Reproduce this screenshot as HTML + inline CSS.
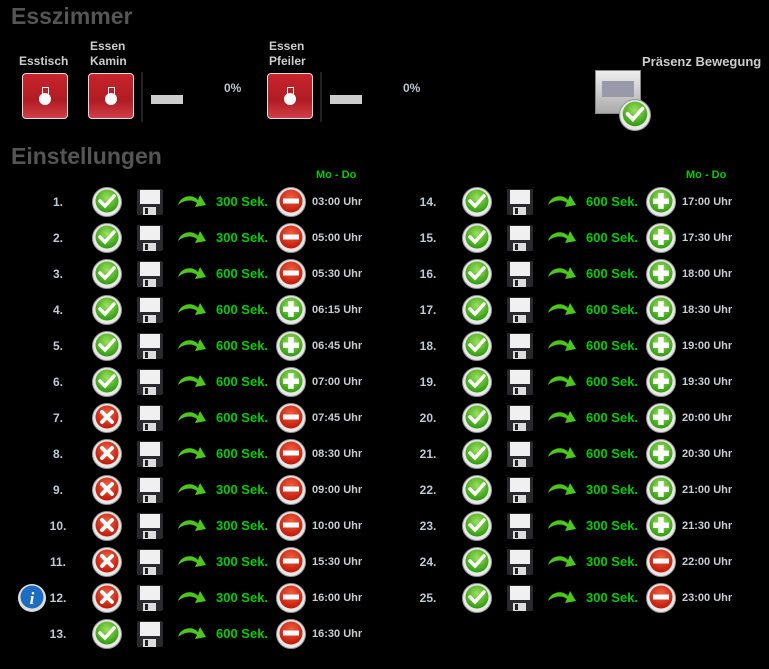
<!DOCTYPE html>
<html><head><meta charset="utf-8"><style>
body{margin:0;width:769px;height:669px;background:#000;overflow:hidden;font-family:"Liberation Sans",sans-serif;position:relative}
.a{position:absolute}
.h{color:#555;font-weight:bold;font-size:23px}
.lbl{color:#ccc;font-size:12px;line-height:15px;font-weight:bold}
.btn{position:absolute;width:44px;height:44px;border:1px solid #ddd;border-radius:4px;background:linear-gradient(#c8242c,#b01c24 60%,#d04048)}
.btn:before{content:"";position:absolute;left:19px;top:13px;width:5px;height:6px;border:1px solid #fff;border-bottom:none}
.btn:after{content:"";position:absolute;left:16px;top:19px;width:12px;height:12px;border-radius:50%;background:#fff}
.sep{position:absolute;width:2px;height:50px;background:#222;top:72px}
.bar{position:absolute;width:32px;height:9px;background:#ccc;top:95px}
.r{position:absolute;width:370px;height:30px}
.r .n{position:absolute;left:36px;width:44px;text-align:center;line-height:30px;color:#c0cad6;font-weight:bold;font-size:12px}
.r svg{position:absolute}
.r .s{position:absolute;left:216px;line-height:30px;color:#0c0;font-weight:bold;font-size:13px}
.r .t{position:absolute;left:312px;line-height:30px;color:#c8ccd0;font-weight:bold;font-size:11px}
.md{position:absolute;color:#0c0;font-weight:bold;font-size:11px;top:169px}
</style></head><body>
<svg width="0" height="0" style="position:absolute">
<defs>
<radialGradient id="gg" cx="50%" cy="35%" r="65%"><stop offset="0" stop-color="#9be05a"/><stop offset="1" stop-color="#2e9a10"/></radialGradient>
<radialGradient id="rg" cx="50%" cy="35%" r="65%"><stop offset="0" stop-color="#f06040"/><stop offset="1" stop-color="#c01808"/></radialGradient>
<symbol id="ring" viewBox="0 0 30 30"><circle cx="15" cy="15" r="14.5" fill="#e8e8e8"/><circle cx="15" cy="15" r="14.5" fill="none" stroke="#999" stroke-width="1"/></symbol>
<symbol id="ok" viewBox="0 0 30 30"><use href="#ring"/><circle cx="15" cy="14" r="11.5" fill="url(#gg)"/><path d="M8 14 L13 19 L22 9" fill="none" stroke="#fff" stroke-width="3.5" stroke-linecap="round"/></symbol>
<symbol id="x" viewBox="0 0 30 30"><use href="#ring"/><circle cx="15" cy="14" r="11.5" fill="url(#rg)"/><path d="M10 9 L20 19 M20 9 L10 19" stroke="#fff" stroke-width="4" stroke-linecap="round"/></symbol>
<symbol id="mi" viewBox="0 0 30 30"><use href="#ring"/><circle cx="15" cy="14" r="11.5" fill="url(#rg)"/><rect x="7" y="11.5" width="16" height="5" fill="#fff"/></symbol>
<symbol id="pl" viewBox="0 0 30 30"><use href="#ring"/><circle cx="15" cy="14" r="11.5" fill="url(#gg)"/><rect x="7" y="11.5" width="16" height="5.5" fill="#fff"/><rect x="12.2" y="6" width="5.5" height="16" fill="#fff"/></symbol>
<symbol id="fl" viewBox="0 0 28 28"><rect x="1" y="1" width="26" height="26" rx="2" fill="#2a2a2e"/><rect x="4" y="2" width="20" height="14" fill="#f0f0f0"/><rect x="7" y="19" width="13" height="8" fill="#ddd"/><rect x="9" y="20" width="3" height="6" fill="#222"/></symbol>
<symbol id="ar" viewBox="0 0 30 20"><path d="M1 13 C4 3 16 2 21 8 L23 3 L29 13 L18 15 L20 11 C15 7 7 8 1 13Z" fill="#4cc81c"/></symbol>
</defs></svg>

<div class="a h" style="left:11px;top:3px">Esszimmer</div>
<div class="a lbl" style="left:19px;top:54px">Esstisch</div>
<div class="a lbl" style="left:90px;top:39px">Essen<br>Kamin</div>
<div class="a lbl" style="left:269px;top:39px">Essen<br>Pfeiler</div>
<div class="btn" style="left:22px;top:73px"></div>
<div class="btn" style="left:88px;top:73px"></div>
<div class="btn" style="left:267px;top:73px"></div>
<div class="sep" style="left:141px"></div><div class="sep" style="left:320px"></div>
<div class="bar" style="left:151px"></div><div class="bar" style="left:330px"></div>
<div class="a lbl" style="left:224px;top:81px;color:#b8c4d0">0%</div>
<div class="a lbl" style="left:403px;top:81px;color:#b8c4d0">0%</div>
<div class="a lbl" style="left:642px;top:54px;font-size:13px">Präsenz Bewegung</div>
<div class="a" style="left:595px;top:70px;width:44px;height:42px;background:linear-gradient(#eee,#aaa);border:1px solid #888"><div style="margin:10px 6px;height:16px;background:#99a"></div></div>
<svg class="a" style="left:619px;top:99px" width="32" height="32"><use href="#ok"/></svg>
<div class="a h" style="left:11px;top:143px">Einstellungen</div>
<div class="md" style="left:316px">Mo - Do</div>
<div class="md" style="left:686px">Mo - Do</div>
<svg class="a" style="left:17px;top:583px" width="30" height="30"><circle cx="15" cy="15" r="14" fill="#ddd"/><circle cx="15" cy="14" r="11.5" fill="#1c6cc0"/><text x="15" y="21" text-anchor="middle" fill="#fff" font-size="17" font-weight="bold" font-style="italic" font-family="Liberation Serif">i</text></svg>

<div class="r" style="left:0;top:187px"><span class="n">1.</span><svg style="left:92px" width="30" height="30"><use href="#ok"/></svg><svg style="left:136px;top:1px" width="28" height="28"><use href="#fl"/></svg><svg style="left:177px;top:5px" width="30" height="20"><use href="#ar"/></svg><span class="s">300 Sek.</span><svg style="left:276px" width="30" height="30"><use href="#mi"/></svg><span class="t">03:00 Uhr</span></div>
<div class="r" style="left:0;top:223px"><span class="n">2.</span><svg style="left:92px" width="30" height="30"><use href="#ok"/></svg><svg style="left:136px;top:1px" width="28" height="28"><use href="#fl"/></svg><svg style="left:177px;top:5px" width="30" height="20"><use href="#ar"/></svg><span class="s">300 Sek.</span><svg style="left:276px" width="30" height="30"><use href="#mi"/></svg><span class="t">05:00 Uhr</span></div>
<div class="r" style="left:0;top:259px"><span class="n">3.</span><svg style="left:92px" width="30" height="30"><use href="#ok"/></svg><svg style="left:136px;top:1px" width="28" height="28"><use href="#fl"/></svg><svg style="left:177px;top:5px" width="30" height="20"><use href="#ar"/></svg><span class="s">600 Sek.</span><svg style="left:276px" width="30" height="30"><use href="#mi"/></svg><span class="t">05:30 Uhr</span></div>
<div class="r" style="left:0;top:295px"><span class="n">4.</span><svg style="left:92px" width="30" height="30"><use href="#ok"/></svg><svg style="left:136px;top:1px" width="28" height="28"><use href="#fl"/></svg><svg style="left:177px;top:5px" width="30" height="20"><use href="#ar"/></svg><span class="s">600 Sek.</span><svg style="left:276px" width="30" height="30"><use href="#pl"/></svg><span class="t">06:15 Uhr</span></div>
<div class="r" style="left:0;top:331px"><span class="n">5.</span><svg style="left:92px" width="30" height="30"><use href="#ok"/></svg><svg style="left:136px;top:1px" width="28" height="28"><use href="#fl"/></svg><svg style="left:177px;top:5px" width="30" height="20"><use href="#ar"/></svg><span class="s">600 Sek.</span><svg style="left:276px" width="30" height="30"><use href="#pl"/></svg><span class="t">06:45 Uhr</span></div>
<div class="r" style="left:0;top:367px"><span class="n">6.</span><svg style="left:92px" width="30" height="30"><use href="#ok"/></svg><svg style="left:136px;top:1px" width="28" height="28"><use href="#fl"/></svg><svg style="left:177px;top:5px" width="30" height="20"><use href="#ar"/></svg><span class="s">600 Sek.</span><svg style="left:276px" width="30" height="30"><use href="#pl"/></svg><span class="t">07:00 Uhr</span></div>
<div class="r" style="left:0;top:403px"><span class="n">7.</span><svg style="left:92px" width="30" height="30"><use href="#x"/></svg><svg style="left:136px;top:1px" width="28" height="28"><use href="#fl"/></svg><svg style="left:177px;top:5px" width="30" height="20"><use href="#ar"/></svg><span class="s">600 Sek.</span><svg style="left:276px" width="30" height="30"><use href="#mi"/></svg><span class="t">07:45 Uhr</span></div>
<div class="r" style="left:0;top:439px"><span class="n">8.</span><svg style="left:92px" width="30" height="30"><use href="#x"/></svg><svg style="left:136px;top:1px" width="28" height="28"><use href="#fl"/></svg><svg style="left:177px;top:5px" width="30" height="20"><use href="#ar"/></svg><span class="s">600 Sek.</span><svg style="left:276px" width="30" height="30"><use href="#mi"/></svg><span class="t">08:30 Uhr</span></div>
<div class="r" style="left:0;top:475px"><span class="n">9.</span><svg style="left:92px" width="30" height="30"><use href="#x"/></svg><svg style="left:136px;top:1px" width="28" height="28"><use href="#fl"/></svg><svg style="left:177px;top:5px" width="30" height="20"><use href="#ar"/></svg><span class="s">300 Sek.</span><svg style="left:276px" width="30" height="30"><use href="#mi"/></svg><span class="t">09:00 Uhr</span></div>
<div class="r" style="left:0;top:511px"><span class="n">10.</span><svg style="left:92px" width="30" height="30"><use href="#x"/></svg><svg style="left:136px;top:1px" width="28" height="28"><use href="#fl"/></svg><svg style="left:177px;top:5px" width="30" height="20"><use href="#ar"/></svg><span class="s">300 Sek.</span><svg style="left:276px" width="30" height="30"><use href="#mi"/></svg><span class="t">10:00 Uhr</span></div>
<div class="r" style="left:0;top:547px"><span class="n">11.</span><svg style="left:92px" width="30" height="30"><use href="#x"/></svg><svg style="left:136px;top:1px" width="28" height="28"><use href="#fl"/></svg><svg style="left:177px;top:5px" width="30" height="20"><use href="#ar"/></svg><span class="s">300 Sek.</span><svg style="left:276px" width="30" height="30"><use href="#mi"/></svg><span class="t">15:30 Uhr</span></div>
<div class="r" style="left:0;top:583px"><span class="n">12.</span><svg style="left:92px" width="30" height="30"><use href="#x"/></svg><svg style="left:136px;top:1px" width="28" height="28"><use href="#fl"/></svg><svg style="left:177px;top:5px" width="30" height="20"><use href="#ar"/></svg><span class="s">300 Sek.</span><svg style="left:276px" width="30" height="30"><use href="#mi"/></svg><span class="t">16:00 Uhr</span></div>
<div class="r" style="left:0;top:619px"><span class="n">13.</span><svg style="left:92px" width="30" height="30"><use href="#ok"/></svg><svg style="left:136px;top:1px" width="28" height="28"><use href="#fl"/></svg><svg style="left:177px;top:5px" width="30" height="20"><use href="#ar"/></svg><span class="s">600 Sek.</span><svg style="left:276px" width="30" height="30"><use href="#mi"/></svg><span class="t">16:30 Uhr</span></div>

<div class="r" style="left:370px;top:187px"><span class="n">14.</span><svg style="left:92px" width="30" height="30"><use href="#ok"/></svg><svg style="left:136px;top:1px" width="28" height="28"><use href="#fl"/></svg><svg style="left:177px;top:5px" width="30" height="20"><use href="#ar"/></svg><span class="s">600 Sek.</span><svg style="left:276px" width="30" height="30"><use href="#pl"/></svg><span class="t">17:00 Uhr</span></div>
<div class="r" style="left:370px;top:223px"><span class="n">15.</span><svg style="left:92px" width="30" height="30"><use href="#ok"/></svg><svg style="left:136px;top:1px" width="28" height="28"><use href="#fl"/></svg><svg style="left:177px;top:5px" width="30" height="20"><use href="#ar"/></svg><span class="s">600 Sek.</span><svg style="left:276px" width="30" height="30"><use href="#pl"/></svg><span class="t">17:30 Uhr</span></div>
<div class="r" style="left:370px;top:259px"><span class="n">16.</span><svg style="left:92px" width="30" height="30"><use href="#ok"/></svg><svg style="left:136px;top:1px" width="28" height="28"><use href="#fl"/></svg><svg style="left:177px;top:5px" width="30" height="20"><use href="#ar"/></svg><span class="s">600 Sek.</span><svg style="left:276px" width="30" height="30"><use href="#pl"/></svg><span class="t">18:00 Uhr</span></div>
<div class="r" style="left:370px;top:295px"><span class="n">17.</span><svg style="left:92px" width="30" height="30"><use href="#ok"/></svg><svg style="left:136px;top:1px" width="28" height="28"><use href="#fl"/></svg><svg style="left:177px;top:5px" width="30" height="20"><use href="#ar"/></svg><span class="s">600 Sek.</span><svg style="left:276px" width="30" height="30"><use href="#pl"/></svg><span class="t">18:30 Uhr</span></div>
<div class="r" style="left:370px;top:331px"><span class="n">18.</span><svg style="left:92px" width="30" height="30"><use href="#ok"/></svg><svg style="left:136px;top:1px" width="28" height="28"><use href="#fl"/></svg><svg style="left:177px;top:5px" width="30" height="20"><use href="#ar"/></svg><span class="s">600 Sek.</span><svg style="left:276px" width="30" height="30"><use href="#pl"/></svg><span class="t">19:00 Uhr</span></div>
<div class="r" style="left:370px;top:367px"><span class="n">19.</span><svg style="left:92px" width="30" height="30"><use href="#ok"/></svg><svg style="left:136px;top:1px" width="28" height="28"><use href="#fl"/></svg><svg style="left:177px;top:5px" width="30" height="20"><use href="#ar"/></svg><span class="s">600 Sek.</span><svg style="left:276px" width="30" height="30"><use href="#pl"/></svg><span class="t">19:30 Uhr</span></div>
<div class="r" style="left:370px;top:403px"><span class="n">20.</span><svg style="left:92px" width="30" height="30"><use href="#ok"/></svg><svg style="left:136px;top:1px" width="28" height="28"><use href="#fl"/></svg><svg style="left:177px;top:5px" width="30" height="20"><use href="#ar"/></svg><span class="s">600 Sek.</span><svg style="left:276px" width="30" height="30"><use href="#pl"/></svg><span class="t">20:00 Uhr</span></div>
<div class="r" style="left:370px;top:439px"><span class="n">21.</span><svg style="left:92px" width="30" height="30"><use href="#ok"/></svg><svg style="left:136px;top:1px" width="28" height="28"><use href="#fl"/></svg><svg style="left:177px;top:5px" width="30" height="20"><use href="#ar"/></svg><span class="s">600 Sek.</span><svg style="left:276px" width="30" height="30"><use href="#pl"/></svg><span class="t">20:30 Uhr</span></div>
<div class="r" style="left:370px;top:475px"><span class="n">22.</span><svg style="left:92px" width="30" height="30"><use href="#ok"/></svg><svg style="left:136px;top:1px" width="28" height="28"><use href="#fl"/></svg><svg style="left:177px;top:5px" width="30" height="20"><use href="#ar"/></svg><span class="s">300 Sek.</span><svg style="left:276px" width="30" height="30"><use href="#pl"/></svg><span class="t">21:00 Uhr</span></div>
<div class="r" style="left:370px;top:511px"><span class="n">23.</span><svg style="left:92px" width="30" height="30"><use href="#ok"/></svg><svg style="left:136px;top:1px" width="28" height="28"><use href="#fl"/></svg><svg style="left:177px;top:5px" width="30" height="20"><use href="#ar"/></svg><span class="s">300 Sek.</span><svg style="left:276px" width="30" height="30"><use href="#pl"/></svg><span class="t">21:30 Uhr</span></div>
<div class="r" style="left:370px;top:547px"><span class="n">24.</span><svg style="left:92px" width="30" height="30"><use href="#ok"/></svg><svg style="left:136px;top:1px" width="28" height="28"><use href="#fl"/></svg><svg style="left:177px;top:5px" width="30" height="20"><use href="#ar"/></svg><span class="s">300 Sek.</span><svg style="left:276px" width="30" height="30"><use href="#mi"/></svg><span class="t">22:00 Uhr</span></div>
<div class="r" style="left:370px;top:583px"><span class="n">25.</span><svg style="left:92px" width="30" height="30"><use href="#ok"/></svg><svg style="left:136px;top:1px" width="28" height="28"><use href="#fl"/></svg><svg style="left:177px;top:5px" width="30" height="20"><use href="#ar"/></svg><span class="s">300 Sek.</span><svg style="left:276px" width="30" height="30"><use href="#mi"/></svg><span class="t">23:00 Uhr</span></div>
</body></html>
